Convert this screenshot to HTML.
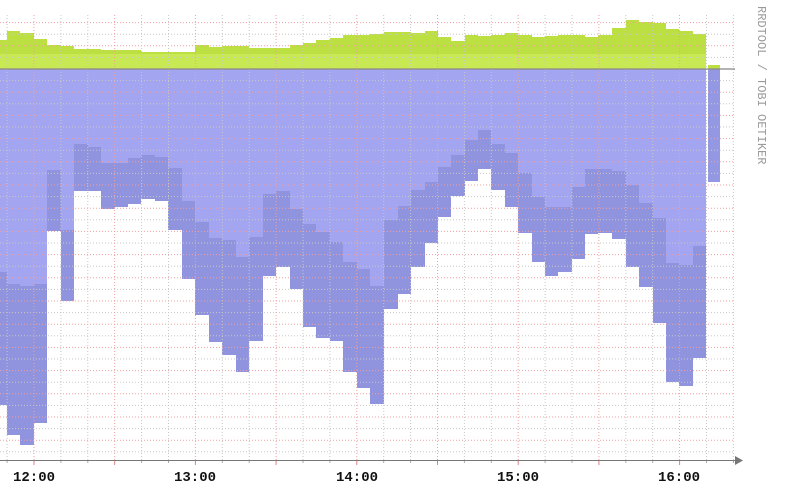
<!DOCTYPE html>
<html><head><meta charset="utf-8"><style>
html,body{margin:0;padding:0;background:#fff;}
svg{display:block;}
</style></head><body>
<svg id="c" width="800" height="503" xmlns="http://www.w3.org/2000/svg">
<rect width="800" height="503" fill="#fff"/>
<g id="areas"></g>
<g id="grid"></g>
<line x1="0" y1="69" x2="735" y2="69" stroke="#888" stroke-width="1.2"/>
<line x1="0" y1="460.5" x2="738" y2="460.5" stroke="#777" stroke-width="1"/>
<polygon points="735,456 743,460.5 735,465" fill="#777"/>
<g font-family="Liberation Mono, monospace" font-size="14" font-weight="bold" fill="#111" text-anchor="middle">
<text x="34" y="481">12:00</text>
<text x="195" y="481">13:00</text>
<text x="357" y="481">14:00</text>
<text x="518" y="481">15:00</text>
<text x="679" y="481">16:00</text>
</g>
<text transform="translate(758,6) rotate(90)" font-family="Liberation Mono, monospace" font-size="12" fill="#9a9a9a">RRDTOOL / TOBI OETIKER</text>
</svg>
<script>
var d=[
[0,7,40,272,405],[7,20,31,284,435],[20,34,33,286,445],[34,47,39,284,423],[47,61,45,170,231],[61,74,46,230,301],
[74,88,49,144,191],[88,101,49,147,191],[101,115,50,163,209],[115,128,50,163,207],[128,141,50,158,204],[141,155,52,155,199],
[155,168,52,157,201],[168,182,52,168,230],[182,195,52,201,279],[195,209,45,222,315],[209,222,47,238,342],[222,236,46,240,355],
[236,249,46,257,372],[249,263,48,237,341],[263,276,48,194,276],[276,290,48,191,267],[290,303,45,209,289],[303,316,43,224,327],
[316,330,40,232,338],[330,343,38,242,341],[343,357,35,262,372],[357,370,35,269,388],[370,384,34,286,404],[384,398,32,220,309],
[398,411,32,206,294],[411,425,33,190,267],[425,438,31,182,243],[438,451,37,167,217],[451,465,41,155,196],[465,478,35,140,181],
[478,491,36,130,169],[491,505,35,144,190],[505,518,33,153,207],[518,532,35,173,233],[532,545,37,197,262],[545,558,36,207,276],
[558,572,35,207,272],[572,585,35,187,259],[585,598,37,169,234],[598,612,35,169,233],[612,626,28,171,239],[626,639,20,185,267],
[639,653,22,203,287],[653,666,23,218,323],[666,679,29,263,382],[679,693,31,265,386],[693,706,34,246,358]];
function val(spec,s){return spec.c!==undefined?spec.c:s[spec.i];}
function band(top,bot){
 var p="M0 "+val(top,d[0]);
 d.forEach(function(s){p+=" V"+val(top,s)+" H"+s[1];});
 for(var i=d.length-1;i>=0;i--){var s=d[i];p+=" V"+val(bot,s)+" H"+s[0];}
 return p+" Z";}
var ns="http://www.w3.org/2000/svg",A=document.getElementById("areas");
function P(p,f){var e=document.createElementNS(ns,"path");e.setAttribute("d",p);e.setAttribute("fill",f);A.appendChild(e);}
P(band({i:2},{c:69}),"#bcdf42");
P("M0 54 H706 V69 H0 Z","#c8e854");
P(band({c:69},{i:3}),"#a3a5f1");
P(band({i:3},{i:4}),"#9093dd");
P("M708 65 H720 V69 H708 Z","#bcdf42");
P("M708 69 H720 V182 H708 Z","#9497e2");
var G=document.getElementById("grid"),g="";
for(var k=-6;k<=34;k++){var y=69+11.6*k;if(y<15||y>455||k==0)continue;
 g+='<line x1="0" x2="735" y1="'+y.toFixed(1)+'" y2="'+y.toFixed(1)+'" stroke="'+(k%2==0?"#f0a0a0":"#c8c8c8")+'" stroke-dasharray="1,2" stroke-width="1"/>';}
for(var k=-1;k<=26;k++){var x=34+26.9*k;if(x<0||x>735)continue;var red=(k%3==0);
 g+='<line y1="15" y2="460" x1="'+x.toFixed(1)+'" x2="'+x.toFixed(1)+'" stroke="'+(red?"#f0a0a0":"#c8c8c8")+'" stroke-dasharray="1,2" stroke-width="1"/>';
 g+='<line y1="460" y2="'+(red?465:463)+'" x1="'+x.toFixed(1)+'" x2="'+x.toFixed(1)+'" stroke="'+(red?"#e08080":"#aaa")+'" stroke-width="1"/>';}
G.innerHTML=g;
</script>
</body></html>
